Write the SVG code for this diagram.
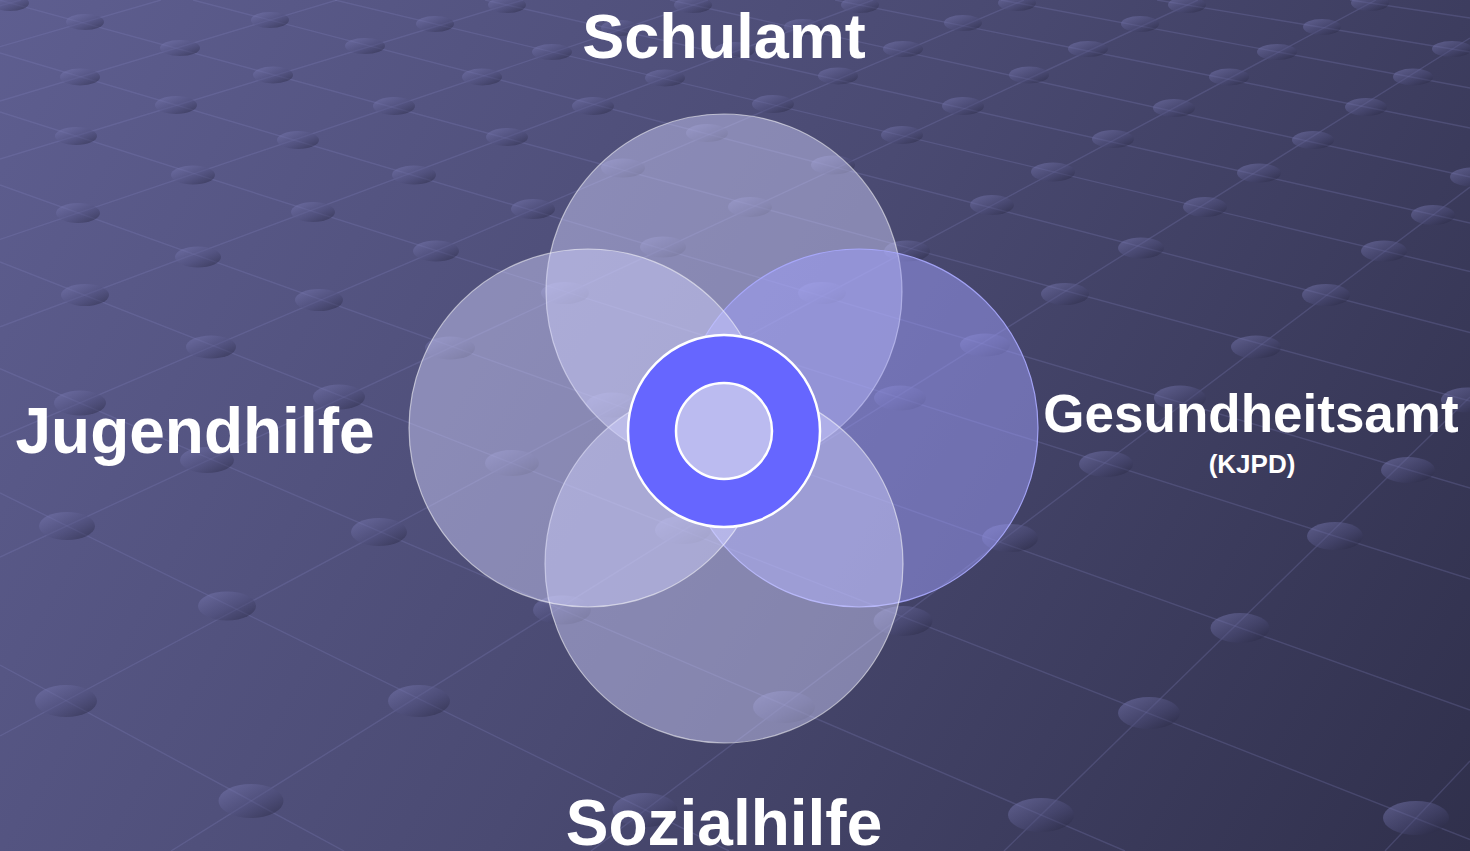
<svg xmlns="http://www.w3.org/2000/svg" width="1470" height="851" viewBox="0 0 1470 851">
<defs>
<linearGradient id="bg" gradientUnits="userSpaceOnUse" x1="0" y1="0" x2="1470" y2="851">
<stop offset="0" stop-color="#5e5e90"/>
<stop offset="0.5" stop-color="#4a4a72"/>
<stop offset="1" stop-color="#30304c"/>
</linearGradient>
<linearGradient id="dotg" x1="0" y1="0" x2="1" y2="1">
<stop offset="0" stop-color="#8484c0" stop-opacity="0.5"/>
<stop offset="0.55" stop-color="#50507e" stop-opacity="0.45"/>
<stop offset="1" stop-color="#1c1c30" stop-opacity="0.5"/>
</linearGradient>
<style>
.grid line{stroke:#8282c0;stroke-opacity:0.25;stroke-width:1.4}
.dot{fill:url(#dotg)}
.venn{fill:#d2d2ff;fill-opacity:0.45;stroke:#ffffff;stroke-opacity:0.55;stroke-width:1.2}
.venn-blue{fill:#a0a0ff;fill-opacity:0.48;stroke:#aaaaff;stroke-opacity:0.9;stroke-width:1.2}
.lbl{font-family:"Liberation Sans",Arial,sans-serif;font-weight:bold;fill:#ffffff;text-anchor:middle}
</style>
</defs>
<rect width="1470" height="851" fill="url(#bg)"/>
<g class="grid">
<line x1="-40" y1="17" x2="21" y2="0"/>
<line x1="0" y1="46.7" x2="161" y2="0"/>
<line x1="0" y1="101" x2="337" y2="0"/>
<line x1="0" y1="159" x2="523" y2="0"/>
<line x1="0" y1="239.4" x2="708" y2="0"/>
<line x1="0" y1="326.8" x2="873" y2="0"/>
<line x1="0" y1="437" x2="1024" y2="0"/>
<line x1="0" y1="557" x2="1198" y2="0"/>
<line x1="0" y1="736" x2="1376" y2="0"/>
<line x1="171" y1="851" x2="1470" y2="38"/>
<line x1="591" y1="851" x2="1470" y2="187"/>
<line x1="1004" y1="851" x2="1470" y2="397"/>
<line x1="1385" y1="851" x2="1470" y2="761"/>
<line x1="0" y1="0.3" x2="1470" y2="401"/>
<line x1="0" y1="53" x2="1470" y2="488"/>
<line x1="0" y1="112" x2="1470" y2="579"/>
<line x1="0" y1="185" x2="1470" y2="710"/>
<line x1="0" y1="262" x2="1470" y2="839.6"/>
<line x1="0" y1="368.7" x2="1125" y2="851"/>
<line x1="0" y1="493" x2="729" y2="851"/>
<line x1="0" y1="665" x2="344" y2="851"/>
<line x1="193" y1="0" x2="1470" y2="332.5"/>
<line x1="335" y1="0" x2="1470" y2="271.5"/>
<line x1="485" y1="0" x2="1470" y2="223"/>
<line x1="670" y1="0" x2="1470" y2="177"/>
<line x1="835" y1="0" x2="1470" y2="128"/>
<line x1="1001" y1="0" x2="1470" y2="88"/>
<line x1="1157" y1="0" x2="1470" y2="52"/>
<line x1="1350" y1="0" x2="1470" y2="18"/>
</g>
<g id="dots">
<ellipse class="dot" cx="10" cy="3" rx="19" ry="8"/>
<ellipse class="dot" cx="85" cy="22" rx="19" ry="8"/>
<ellipse class="dot" cx="80" cy="77" rx="20" ry="8.5"/>
<ellipse class="dot" cx="180" cy="48" rx="20" ry="8"/>
<ellipse class="dot" cx="270" cy="20" rx="19" ry="8"/>
<ellipse class="dot" cx="76" cy="136" rx="21" ry="9"/>
<ellipse class="dot" cx="176" cy="105" rx="21" ry="9"/>
<ellipse class="dot" cx="273" cy="75" rx="20" ry="8.5"/>
<ellipse class="dot" cx="365" cy="46" rx="20" ry="8"/>
<ellipse class="dot" cx="435" cy="24" rx="19" ry="8"/>
<ellipse class="dot" cx="507" cy="5" rx="19" ry="8"/>
<ellipse class="dot" cx="78" cy="213" rx="22" ry="10"/>
<ellipse class="dot" cx="193" cy="175" rx="22" ry="9.5"/>
<ellipse class="dot" cx="298" cy="140" rx="21" ry="9"/>
<ellipse class="dot" cx="394" cy="106" rx="21" ry="9"/>
<ellipse class="dot" cx="482" cy="77" rx="20" ry="8.5"/>
<ellipse class="dot" cx="552" cy="52" rx="20" ry="8"/>
<ellipse class="dot" cx="620" cy="28" rx="19" ry="8"/>
<ellipse class="dot" cx="693" cy="5" rx="19" ry="8"/>
<ellipse class="dot" cx="85" cy="295" rx="24" ry="11"/>
<ellipse class="dot" cx="198" cy="257" rx="23" ry="10.5"/>
<ellipse class="dot" cx="313" cy="212" rx="22" ry="10"/>
<ellipse class="dot" cx="414" cy="175" rx="22" ry="9.5"/>
<ellipse class="dot" cx="507" cy="137" rx="21" ry="9"/>
<ellipse class="dot" cx="593" cy="106" rx="21" ry="9"/>
<ellipse class="dot" cx="665" cy="78" rx="20" ry="8.5"/>
<ellipse class="dot" cx="735" cy="50" rx="20" ry="8"/>
<ellipse class="dot" cx="803" cy="27" rx="19" ry="8"/>
<ellipse class="dot" cx="860" cy="5" rx="19" ry="8"/>
<ellipse class="dot" cx="80" cy="403" rx="26" ry="12.5"/>
<ellipse class="dot" cx="211" cy="347" rx="25" ry="11.5"/>
<ellipse class="dot" cx="319" cy="300" rx="24" ry="11"/>
<ellipse class="dot" cx="436" cy="251" rx="23" ry="10.5"/>
<ellipse class="dot" cx="533" cy="209" rx="22" ry="10"/>
<ellipse class="dot" cx="623" cy="168" rx="22" ry="9.5"/>
<ellipse class="dot" cx="707" cy="133" rx="21" ry="9"/>
<ellipse class="dot" cx="773" cy="104" rx="21" ry="9"/>
<ellipse class="dot" cx="838" cy="76" rx="20" ry="8.5"/>
<ellipse class="dot" cx="903" cy="49" rx="20" ry="8"/>
<ellipse class="dot" cx="963" cy="23" rx="19" ry="8"/>
<ellipse class="dot" cx="1017" cy="3" rx="19" ry="8"/>
<ellipse class="dot" cx="67" cy="526" rx="28" ry="14"/>
<ellipse class="dot" cx="207" cy="460" rx="27" ry="13"/>
<ellipse class="dot" cx="339" cy="397" rx="26" ry="12.5"/>
<ellipse class="dot" cx="450" cy="348" rx="25" ry="11.5"/>
<ellipse class="dot" cx="565" cy="293" rx="24" ry="11"/>
<ellipse class="dot" cx="663" cy="247" rx="23" ry="10.5"/>
<ellipse class="dot" cx="750" cy="207" rx="22" ry="10"/>
<ellipse class="dot" cx="833" cy="165" rx="22" ry="9.5"/>
<ellipse class="dot" cx="902" cy="135" rx="21" ry="9"/>
<ellipse class="dot" cx="963" cy="106" rx="21" ry="9"/>
<ellipse class="dot" cx="1029" cy="75" rx="20" ry="8.5"/>
<ellipse class="dot" cx="1088" cy="49" rx="20" ry="8"/>
<ellipse class="dot" cx="1140" cy="24" rx="19" ry="8"/>
<ellipse class="dot" cx="1187" cy="5" rx="19" ry="8"/>
<ellipse class="dot" cx="66" cy="701" rx="31" ry="16"/>
<ellipse class="dot" cx="227" cy="606" rx="29" ry="14.5"/>
<ellipse class="dot" cx="379" cy="532" rx="28" ry="14"/>
<ellipse class="dot" cx="512" cy="463" rx="27" ry="13"/>
<ellipse class="dot" cx="612" cy="405" rx="26" ry="12.5"/>
<ellipse class="dot" cx="730" cy="344" rx="25" ry="11.5"/>
<ellipse class="dot" cx="822" cy="293" rx="24" ry="11"/>
<ellipse class="dot" cx="907" cy="251" rx="23" ry="10.5"/>
<ellipse class="dot" cx="992" cy="205" rx="22" ry="10"/>
<ellipse class="dot" cx="1053" cy="172" rx="22" ry="9.5"/>
<ellipse class="dot" cx="1113" cy="139" rx="21" ry="9"/>
<ellipse class="dot" cx="1174" cy="108" rx="21" ry="9"/>
<ellipse class="dot" cx="1229" cy="77" rx="20" ry="8.5"/>
<ellipse class="dot" cx="1277" cy="52" rx="20" ry="8"/>
<ellipse class="dot" cx="1322" cy="27" rx="19" ry="8"/>
<ellipse class="dot" cx="1370" cy="3" rx="19" ry="8"/>
<ellipse class="dot" cx="251" cy="801" rx="32.5" ry="17"/>
<ellipse class="dot" cx="419" cy="701" rx="31" ry="16"/>
<ellipse class="dot" cx="562" cy="610" rx="29" ry="14.5"/>
<ellipse class="dot" cx="683" cy="530" rx="28" ry="14"/>
<ellipse class="dot" cx="785" cy="470" rx="27" ry="13"/>
<ellipse class="dot" cx="900" cy="398" rx="26" ry="12.5"/>
<ellipse class="dot" cx="985" cy="345" rx="25" ry="11.5"/>
<ellipse class="dot" cx="1065" cy="294" rx="24" ry="11"/>
<ellipse class="dot" cx="1141" cy="248" rx="23" ry="10.5"/>
<ellipse class="dot" cx="1205" cy="207" rx="22" ry="10"/>
<ellipse class="dot" cx="1259" cy="173" rx="22" ry="9.5"/>
<ellipse class="dot" cx="1313" cy="140" rx="21" ry="9"/>
<ellipse class="dot" cx="1366" cy="107" rx="21" ry="9"/>
<ellipse class="dot" cx="1413" cy="77" rx="20" ry="8.5"/>
<ellipse class="dot" cx="1452" cy="49" rx="20" ry="8"/>
<ellipse class="dot" cx="645" cy="810" rx="32.5" ry="17"/>
<ellipse class="dot" cx="784" cy="707" rx="31" ry="16"/>
<ellipse class="dot" cx="903" cy="621" rx="29.5" ry="15"/>
<ellipse class="dot" cx="1010" cy="538" rx="28" ry="14"/>
<ellipse class="dot" cx="1106" cy="464" rx="27" ry="13"/>
<ellipse class="dot" cx="1180" cy="398" rx="26" ry="12.5"/>
<ellipse class="dot" cx="1256" cy="347" rx="25" ry="11.5"/>
<ellipse class="dot" cx="1326" cy="295" rx="24" ry="11"/>
<ellipse class="dot" cx="1384" cy="251" rx="23" ry="10.5"/>
<ellipse class="dot" cx="1433" cy="215" rx="22" ry="10"/>
<ellipse class="dot" cx="1472" cy="177" rx="22" ry="9.5"/>
<ellipse class="dot" cx="1041" cy="815" rx="33" ry="17"/>
<ellipse class="dot" cx="1149" cy="713" rx="31" ry="16"/>
<ellipse class="dot" cx="1240" cy="628" rx="29.5" ry="15"/>
<ellipse class="dot" cx="1335" cy="536" rx="28" ry="14"/>
<ellipse class="dot" cx="1408" cy="470" rx="27" ry="13"/>
<ellipse class="dot" cx="1467" cy="400" rx="26" ry="12.5"/>
<ellipse class="dot" cx="1416" cy="818" rx="33" ry="17"/>
</g>
<g id="node-schulamt">
<circle class="venn" cx="724" cy="292" r="178"/>
</g>
<g id="node-gesundheitsamt">
<circle class="venn-blue" cx="859" cy="428" r="179"/>
</g>
<g id="node-sozialhilfe">
<circle class="venn" cx="724" cy="564" r="179"/>
</g>
<g id="node-jugendhilfe">
<circle class="venn" cx="588" cy="428" r="179"/>
</g>
<g id="node-center">
<circle cx="724" cy="431" r="96" fill="#6666ff" stroke="#ffffff" stroke-width="2.5"/>
<circle cx="724" cy="431" r="48" fill="#bbbbf0" stroke="#ffffff" stroke-width="2.5"/>
</g>
<g id="labels">
<text class="lbl" x="724" y="58" font-size="63">Schulamt</text>
<text class="lbl" x="195" y="453" font-size="64">Jugendhilfe</text>
<text class="lbl" x="1251" y="432" font-size="53">Gesundheitsamt</text>
<text class="lbl" x="1252" y="473" font-size="26">(KJPD)</text>
<text class="lbl" x="724" y="845" font-size="64">Sozialhilfe</text>
</g>
</svg>
